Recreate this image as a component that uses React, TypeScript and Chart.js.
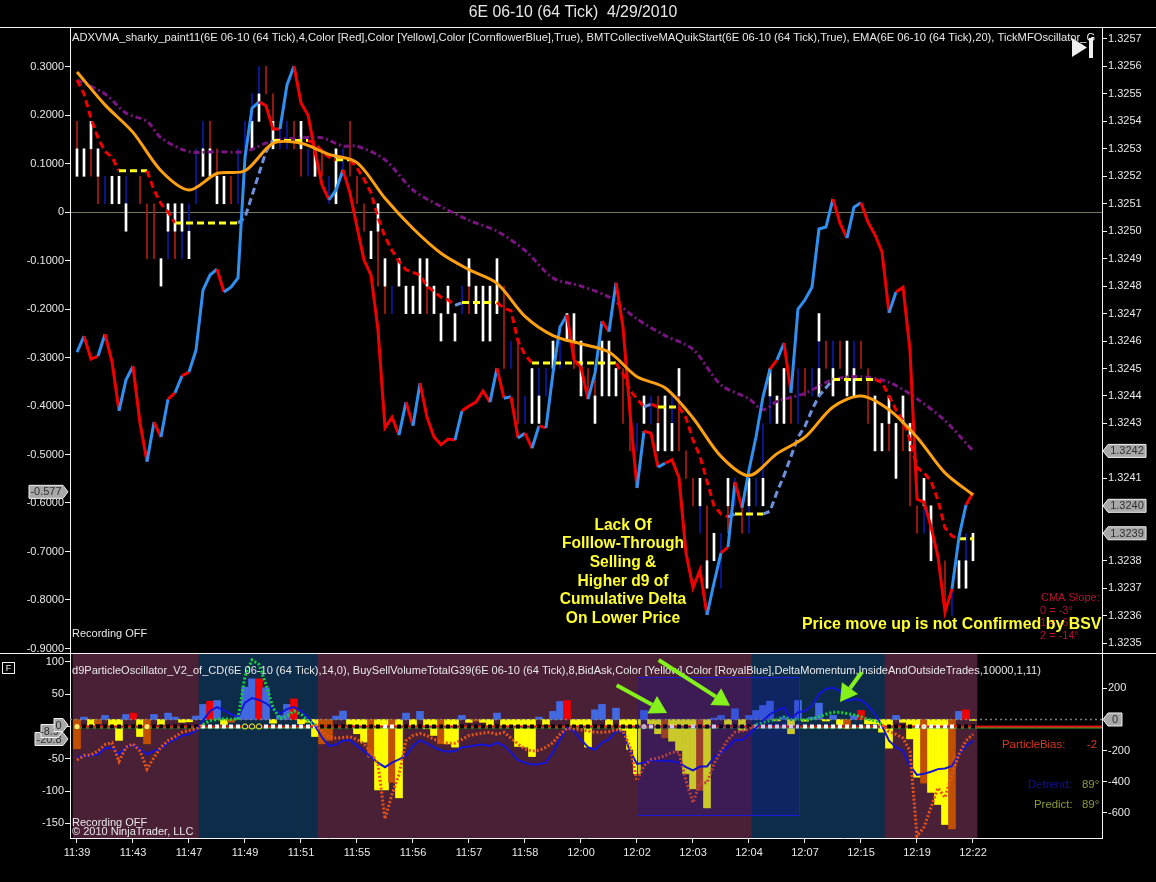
import React, { useEffect, useRef } from "react";
import { Chart, registerables } from "chart.js";

Chart.register(...registerables);

const FONT = "'Liberation Sans', Arial, sans-serif";

// ---------- categories / ticks ----------
const timeLabels = ["11:39","11:43","11:47","11:49","11:51","11:55","11:56","11:57","11:58","12:00","12:02","12:03","12:04","12:07","12:15","12:19","12:22"];
const timeTickEvery = 8;
const oscTicksTop = [0.3,0.2,0.1,0,-0.1,-0.2,-0.3,-0.4,-0.5,-0.6,-0.7,-0.8,-0.9];
const priceTicks = [1.3257,1.3256,1.3255,1.3254,1.3253,1.3252,1.3251,1.325,1.3249,1.3248,1.3247,1.3246,1.3245,1.3244,1.3243,1.3242,1.3241,1.324,1.3239,1.3238,1.3237,1.3236,1.3235];
const oscTicksBottom = [100,50,0,-50,-100,-150];
const volTicks = [200,-200,-400,-600];

// ---------- upper panel: thick oscillator line (left axis) ----------
const thickOsc = [-0.289,-0.256,-0.303,-0.297,-0.252,-0.309,-0.41,-0.346,-0.318,-0.435,-0.515,-0.433,-0.464,-0.386,-0.373,-0.338,-0.33,-0.285,-0.161,-0.13,-0.118,-0.165,-0.155,-0.136,0.113,0.214,0.227,0.219,0.171,0.171,0.262,0.301,0.225,0.2,0.124,0.056,0.025,0.045,0.087,0.039,-0.031,-0.099,-0.13,-0.243,-0.445,-0.423,-0.46,-0.392,-0.441,-0.353,-0.423,-0.464,-0.48,-0.468,-0.47,-0.41,-0.4,-0.392,-0.369,-0.392,-0.322,-0.384,-0.381,-0.466,-0.456,-0.487,-0.441,-0.445,-0.332,-0.237,-0.212,-0.305,-0.32,-0.386,-0.332,-0.225,-0.247,-0.146,-0.237,-0.414,-0.569,-0.452,-0.456,-0.526,-0.518,-0.511,-0.548,-0.703,-0.775,-0.738,-0.831,-0.765,-0.703,-0.691,-0.557,-0.61,-0.532,-0.464,-0.381,-0.324,-0.305,-0.27,-0.373,-0.2,-0.181,-0.155,-0.035,-0.031,0.027,-0.023,-0.054,0.01,0.019,-0.021,-0.047,-0.082,-0.208,-0.165,-0.155,-0.285,-0.592,-0.598,-0.649,-0.711,-0.825,-0.777,-0.67,-0.604,-0.579];
const thickRedRises = [2,13,15,44,52,53,55,56,57,84,88,92,99,117,120,124,127];

// ---------- upper panel: price-scale lines (right axis) ----------
const adxvma = [1.32555,1.3255,1.32541,1.32534,1.32529,1.32527,1.32522,1.32522,1.32522,1.32522,1.32522,1.32515,1.3251,1.32507,1.32503,1.32503,1.32503,1.32503,1.32503,1.32503,1.32503,1.32503,1.32503,1.32503,1.32505,1.32513,1.32521,1.32529,1.32533,1.32533,1.32533,1.32533,1.32533,1.32533,1.32532,1.32529,1.32527,1.32526,1.32526,1.32526,1.32523,1.32519,1.32514,1.32505,1.32498,1.32493,1.32489,1.32486,1.32485,1.32484,1.3248,1.32478,1.32476,1.32475,1.32473,1.32474,1.32474,1.32474,1.32474,1.32474,1.32474,1.32472,1.32471,1.3246,1.32455,1.32452,1.32452,1.32452,1.32452,1.32452,1.32452,1.32452,1.32452,1.32452,1.32452,1.32452,1.32452,1.32452,1.32448,1.32442,1.32439,1.32436,1.32437,1.32436,1.32436,1.32436,1.32436,1.32432,1.32424,1.32418,1.32409,1.324,1.32397,1.32396,1.32397,1.32397,1.32397,1.32397,1.32397,1.32398,1.32405,1.32411,1.32418,1.32425,1.32429,1.32435,1.3244,1.32443,1.32446,1.32446,1.32446,1.32446,1.32446,1.32446,1.32446,1.32445,1.3244,1.32435,1.32431,1.32424,1.32414,1.32412,1.32409,1.32402,1.32392,1.32389,1.32388,1.32388,1.32388];
const ema20: [number, number][] = [[0,1.32558],[4,1.32546],[8,1.32536],[12,1.32522],[16,1.32515],[20,1.32521],[24,1.32522],[28,1.32532],[32,1.32532],[36,1.32528],[40,1.32525],[44,1.32512],[48,1.32501],[52,1.32492],[56,1.32486],[60,1.32481],[64,1.32469],[68,1.32462],[72,1.32459],[76,1.32456],[80,1.32447],[84,1.32443],[88,1.32432],[92,1.32418],[96,1.32411],[100,1.32419],[104,1.32425],[108,1.32436],[112,1.3244],[116,1.32435],[120,1.32425],[124,1.32412],[128,1.32404]];
const collectiveMA: [number, number][] = [[0,1.32555],[4,1.3255],[7,1.32543],[10,1.3254],[12,1.32534],[16,1.32529],[20,1.32529],[24,1.32529],[28,1.32533],[32,1.32534],[35,1.32534],[38,1.32531],[40,1.32531],[44,1.32526],[48,1.32515],[52,1.32509],[56,1.32504],[60,1.325],[64,1.32493],[68,1.32483],[72,1.3248],[76,1.32476],[80,1.32468],[84,1.32462],[88,1.32457],[92,1.32444],[96,1.32439],[98,1.32435],[100,1.32438],[104,1.32441],[108,1.32446],[112,1.32447],[116,1.32445],[120,1.32439],[124,1.32431],[128,1.3242]];

// ---------- upper panel: price bars [bar index, low, high] ----------
const whiteBars: [number, number, number][] = [[0,1.3252,1.3253],[1,1.3252,1.3253],[2,1.3253,1.3254],[3,1.3252,1.3253],[5,1.3251,1.3252],[6,1.3251,1.3252],[7,1.325,1.3251],[12,1.3248,1.3249],[13,1.325,1.3251],[14,1.325,1.3251],[15,1.325,1.3251],[16,1.3249,1.325],[18,1.3252,1.3253],[19,1.3252,1.3253],[20,1.3251,1.3252],[21,1.3251,1.3252],[25,1.3253,1.3254],[26,1.3254,1.3255],[28,1.3253,1.3254],[32,1.3253,1.3254],[34,1.3252,1.3253],[37,1.3251,1.3253],[42,1.3249,1.325],[43,1.325,1.3251],[44,1.3248,1.3249],[46,1.3248,1.3249],[47,1.3247,1.3248],[48,1.3247,1.3248],[49,1.3247,1.3249],[50,1.3248,1.3249],[51,1.3247,1.3248],[52,1.3246,1.3247],[53,1.3247,1.3248],[54,1.3246,1.3247],[56,1.3248,1.3249],[57,1.3247,1.3248],[58,1.3246,1.3248],[59,1.3246,1.3248],[60,1.3247,1.3249],[65,1.3243,1.3245],[66,1.3243,1.3244],[68,1.3245,1.3246],[70,1.3246,1.3247],[71,1.3246,1.3247],[72,1.3244,1.3246],[74,1.3243,1.3244],[75,1.3244,1.3246],[76,1.3244,1.3246],[77,1.3244,1.3245],[81,1.3243,1.3244],[83,1.3242,1.3243],[84,1.3242,1.3244],[85,1.3242,1.3243],[86,1.3244,1.3245],[89,1.324,1.3241],[90,1.3237,1.3238],[91,1.3238,1.3239],[93,1.324,1.3241],[96,1.324,1.3241],[98,1.324,1.3241],[99,1.3244,1.3245],[100,1.3243,1.3244],[101,1.3243,1.3245],[106,1.3246,1.3247],[106,1.3244,1.3245],[108,1.3244,1.3245],[110,1.3244,1.3246],[111,1.3244,1.3245],[114,1.3242,1.3244],[115,1.3242,1.3243],[116,1.3243,1.3244],[117,1.3241,1.3243],[118,1.3243,1.3244],[119,1.3242,1.3243],[121,1.324,1.3241],[122,1.3238,1.324],[126,1.3237,1.3238],[127,1.3237,1.3238],[128,1.3238,1.3239]];
const redBars: [number, number, number][] = [[0,1.3253,1.3254],[2,1.3252,1.3253],[3,1.3251,1.3252],[9,1.3251,1.3252],[10,1.3249,1.3251],[11,1.3249,1.3251],[14,1.3249,1.325],[19,1.3253,1.3254],[20,1.3252,1.3253],[22,1.3251,1.3252],[27,1.3255,1.3256],[28,1.3254,1.3255],[31,1.3253,1.3254],[32,1.3252,1.3253],[35,1.3252,1.3253],[39,1.3252,1.3254],[40,1.3251,1.3252],[41,1.325,1.3251],[43,1.3248,1.325],[44,1.3247,1.3248],[50,1.3247,1.3248],[56,1.3247,1.3248],[61,1.3245,1.3248],[63,1.3243,1.3246],[71,1.3245,1.3246],[73,1.3244,1.3245],[74,1.3244,1.3245],[78,1.3243,1.3245],[79,1.3242,1.3244],[83,1.3243,1.3244],[86,1.3242,1.3244],[87,1.3241,1.3242],[88,1.324,1.3241],[90,1.3238,1.324],[93,1.3239,1.324],[95,1.3239,1.324],[102,1.3243,1.3244],[104,1.3244,1.3245],[107,1.3245,1.3246],[109,1.3245,1.3246],[112,1.3245,1.3246],[113,1.3243,1.3245],[116,1.3242,1.3243],[118,1.3242,1.3243],[119,1.324,1.3242],[120,1.3239,1.324],[124,1.3236,1.3238]];
const blueBars: [number, number, number][] = [[4,1.3251,1.3252],[7,1.3251,1.3252],[13,1.3249,1.325],[15,1.3249,1.325],[16,1.325,1.3251],[17,1.3251,1.3253],[18,1.3253,1.3254],[23,1.3251,1.3253],[24,1.3253,1.3254],[25,1.3254,1.3255],[26,1.3255,1.3256],[29,1.3253,1.3254],[30,1.3253,1.3254],[33,1.3252,1.3253],[36,1.3251,1.3252],[38,1.3252,1.3253],[45,1.3247,1.3248],[55,1.3247,1.3248],[62,1.3245,1.3246],[64,1.3243,1.3244],[66,1.3244,1.3245],[67,1.3244,1.3245],[69,1.3245,1.3246],[80,1.3242,1.3243],[82,1.3243,1.3244],[85,1.3243,1.3244],[89,1.3239,1.324],[92,1.3237,1.3239],[94,1.324,1.3241],[96,1.3239,1.324],[97,1.324,1.3241],[98,1.3241,1.3243],[99,1.3243,1.3244],[103,1.3243,1.3245],[105,1.3244,1.3245],[106,1.3245,1.3246],[108,1.3245,1.3246],[111,1.3245,1.3246],[121,1.3239,1.324],[125,1.3236,1.3237],[127,1.3238,1.3239]];

// ---------- lower panel ----------
const detrend = [-47,-46,-45,-43,-33.5,-32.5,-43,-32,-28,-35,-43,-38,-35,-25,-20,-14,-12,-7,9,24,30,25,19,14,37,44,41,36,27,20,27,30,24,14,1,-17,-30,-28,-22,-21,-30,-38,-47,-56,-63,-56,-51,-45,-30,-21,-26,-32,-37,-39,-38,-32,-31,-29,-28,-30,-25,-30,-40,-52,-56,-59,-58,-56,-40,-20,-2,-7,-20,-32,-36,-25,-20,-7,-9,-38,-58,-56,-52,-53,-53,-54,-56,-63,-68,-62,-62,-48,-40,-32,-21,-21,-12,-2,9,19,25,29,11,22,24,32,50,58,60,55,40,42,41,32,19,1,-22,-32,-38,-61,-75,-73,-70,-66,-65,-61,-43,-30,-22];
const particle = [-52,-45,-44,-38,-28,-25,-54,-32,-27,-38,-66,-48,-32,-22,-16,-9,-6,-4,3,9,11,12,11,12,78,103,96,65,29,12,16,24,19,9,3,-7,-16,-18,-17,-16,-20,-27,-40,-58,-143,-105,-74,-22,-14,-11,-14,-20,-23,-26,-26,-20,-14,-12,-10,-9,-12,-9,-18,-27,-35,-38,-37,-32,-25,-12,-3,-4,-5,-7,-9,-9,-8,-5,-7,-32,-84,-61,-51,-49,-45,-40,-40,-84,-118,-87,-87,-58,-38,-20,-9,-7,-4,3,6,9,11,15,11,11,10,12,15,19,22,22,20,18,15,11,9,3,-8,-12,-18,-38,-170,-156,-125,-95,-110,-74,-43,-22,-12];
const volumeDelta = [-189,15,-39,-28,26,-54,-135,32,41,-110,-157,32,-32,41,15,-18,-15,22,97,118,122,-32,-18,26,208,262,262,204,-24,26,97,133,-28,-18,-110,-157,-135,22,54,-32,-92,-146,-243,-454,-454,-405,-505,41,-39,52,-60,-103,-157,-157,-178,26,-18,-10,-18,-39,41,-39,-39,-174,-178,-239,15,-32,52,116,122,-39,-39,-178,62,97,-39,73,-70,-193,-350,58,-28,-92,-118,-140,-200,-350,-447,-458,-570,9,26,-32,69,-70,26,58,90,118,-9,15,-92,122,-11,15,105,-10,26,-32,-60,26,58,-28,-28,-82,-185,26,-18,-125,-372,-410,-470,-548,-677,-705,52,62,-6];
const deltaRedBars = [8,19,26,31,70,112,127];
const deltaBrownBars = [0,3,10,22,35,36,42,45,52,57,84,89,110,121,125];
const navyRegimes: [number, number][] = [[18,34],[97,115]];
const regimeLast = 128;
const whiteDots = [44,45,82,85,88,91,120,122,123,124,125];
const yellowDots = [0,10];
const hollowDots = [24,25,26];
const paleDots = [81,121];
const particleBias = -2;
const lastValues = { osc: -0.577, prices: [1.3242, 1.324, 1.3239], bottom: [-20.8, -8.9, 0], vol: 0 };
// selection box: first bar, last bar, left-axis top, left-axis bottom
const selectionBox = [80, 103.14, 76.6, -137];
// arrows: tail bar, tail value, tip bar, tip value (left axis)
const arrows = [[77.1,64,84.3,21],[83.1,103,93.3,32],[112.1,84,109,38]];

const chartTitle = "6E 06-10 (64 Tick)  4/29/2010";
const annotationLines = ["Lack Of","Folllow-Through","Selling &","Higher d9 of","Cumulative Delta","On Lower Price"];
const topLegend = "ADXVMA_sharky_paint11(6E 06-10 (64 Tick),4,Color [Red],Color [Yellow],Color [CornflowerBlue],True), BMTCollectiveMAQuikStart(6E 06-10 (64 Tick),True), EMA(6E 06-10 (64 Tick),20), TickMFOscillator_G";
const bottomLegend = "d9ParticleOscillator_V2_of_CD(6E 06-10 (64 Tick),14,0), BuySellVolumeTotalG39(6E 06-10 (64 Tick),8,BidAsk,Color [Yellow],Color [RoyalBlue],DeltaMomentum,InsideAndOutsideTrades,10000,1,11)";

const X_MIN = -1;
const X_MAX = 146.43;
const LOWER_TOP = 650;
const isNavy = (i: number) => navyRegimes.some(([a, b]) => i >= a && i <= b);
const pts = (rows: [number, number, number][]) => rows.map(([x, lo, hi]) => ({ x, y: [lo, hi] }));
const series = (vals: number[]) => vals.map((y, x) => ({ x, y }));
const pairs = (rows: [number, number][]) => rows.map(([x, y]) => ({ x, y }));
const timeTickValues = timeLabels.map((_, i) => i * timeTickEvery);

function fixedTicks(values: number[]) {
  return (scale: any) => {
    scale.ticks = values.map((value) => ({ value }));
  };
}

function text(ctx: CanvasRenderingContext2D, s: string, x: number, y: number, color: string, font: string, align: CanvasTextAlign = "left") {
  ctx.fillStyle = color;
  ctx.font = font;
  ctx.textAlign = align;
  ctx.textBaseline = "middle";
  ctx.fillText(s, x, y);
}

function flag(ctx: CanvasRenderingContext2D, s: string, tipX: number, y: number, width: number, dir: 1 | -1) {
  const h = 6.5;
  const bodyX = tipX - dir * 5;
  const farX = tipX - dir * width;
  ctx.beginPath();
  ctx.moveTo(tipX, y);
  ctx.lineTo(bodyX, y - h);
  ctx.lineTo(farX, y - h);
  ctx.lineTo(farX, y + h);
  ctx.lineTo(bodyX, y + h);
  ctx.closePath();
  ctx.fillStyle = "#a8a8a8";
  ctx.fill();
  ctx.strokeStyle = "#f0f0f0";
  ctx.lineWidth = 1;
  ctx.stroke();
  text(ctx, s, (bodyX + farX) / 2, y + 0.5, "#303030", `11px ${FONT}`, "center");
}

const upperOverlay = {
  id: "upperOverlay",
  afterDraw(chart: any) {
    const { ctx, scales } = chart;
    ctx.save();
    ctx.strokeStyle = "#f4f4f4";
    ctx.lineWidth = 1;
    ctx.beginPath();
    ctx.moveTo(0, 27.5);
    ctx.lineTo(1156, 27.5);
    ctx.moveTo(0, 653.5);
    ctx.lineTo(1156, 653.5);
    ctx.stroke();

    text(ctx, chartTitle, 573, 13, "#e8e8e8", `15.8px ${FONT}`, "center");

    ctx.save();
    ctx.beginPath();
    ctx.rect(70, 28, 1032, 30);
    ctx.clip();
    text(ctx, topLegend, 72, 38, "#e8e8e8", `11.18px ${FONT}`);
    ctx.restore();

    // play-to-end glyph
    ctx.fillStyle = "#f0f0f0";
    ctx.beginPath();
    ctx.moveTo(1072, 38);
    ctx.lineTo(1087, 47.5);
    ctx.lineTo(1072, 57);
    ctx.closePath();
    ctx.fill();
    ctx.fillRect(1089, 38, 4, 20);

    text(ctx, "Recording OFF", 72, 634, "#e8e8e8", `11px ${FONT}`);

    const crimson = "#b5142e";
    const cmaFont = `11px ${FONT}`;
    text(ctx, "CMA Slope:", 1041, 598, crimson, cmaFont);
    text(ctx, "0 = -3°", 1040, 611, crimson, cmaFont);
    text(ctx, "1 = -6°", 1040, 623, crimson, cmaFont);
    text(ctx, "2 = -14°", 1040, 636, crimson, cmaFont);

    const yel = "#ffff33";
    const bold = `bold 15.6px ${FONT}`;
    annotationLines.forEach((line, i) => text(ctx, line, 623, 525.5 + i * 18.6, yel, bold, "center"));
    text(ctx, "Price move up is not Confirmed by BSV", 802, 625, yel, `bold 15.9px ${FONT}`);

    flag(ctx, lastValues.osc.toFixed(3), 68, scales.yL.getPixelForValue(lastValues.osc), 39, 1);
    lastValues.prices.forEach((p) => flag(ctx, p.toFixed(4), 1103, scales.yR.getPixelForValue(p), 43, -1));
    ctx.restore();
  },
};

const lowerOverlay = {
  id: "lowerOverlay",
  afterDatasetsDraw(chart: any) {
    const { ctx, scales } = chart;
    const { x, yL } = scales;
    const [a, b, t, d] = selectionBox;
    const left = x.getPixelForValue(a);
    const right = x.getPixelForValue(b);
    const top = yL.getPixelForValue(t);
    const bottom = yL.getPixelForValue(d);
    ctx.save();
    ctx.fillStyle = "rgba(20,10,190,0.22)";
    ctx.fillRect(left, top, right - left, bottom - top);
    ctx.strokeStyle = "#1a1ad8";
    ctx.lineWidth = 1;
    ctx.strokeRect(left + 0.5, top + 0.5, right - left, bottom - top);
    ctx.restore();
  },
  afterDraw(chart: any) {
    const { ctx, scales } = chart;
    const { x, yL, yR } = scales;
    const Y = (v: number) => v - LOWER_TOP;
    ctx.save();
    text(ctx, bottomLegend, 72, Y(671), "#e8e8e8", `11.05px ${FONT}`);
    text(ctx, "Recording OFF", 72, Y(823), "#e8e8e8", `11px ${FONT}`);
    text(ctx, "© 2010 NinjaTrader, LLC", 72, Y(832), "#e8e8e8", `11px ${FONT}`);

    arrows.forEach(([tx, tv, hx, hv]) => {
      const x0 = x.getPixelForValue(tx);
      const y0 = yL.getPixelForValue(tv);
      const x1 = x.getPixelForValue(hx);
      const y1 = yL.getPixelForValue(hv);
      const ang = Math.atan2(y1 - y0, x1 - x0);
      const len = 17;
      const bx = x1 - Math.cos(ang) * len;
      const by = y1 - Math.sin(ang) * len;
      ctx.strokeStyle = "#84f01c";
      ctx.fillStyle = "#84f01c";
      ctx.lineWidth = 4;
      ctx.beginPath();
      ctx.moveTo(x0, y0);
      ctx.lineTo(bx, by);
      ctx.stroke();
      ctx.beginPath();
      ctx.moveTo(x1, y1);
      ctx.lineTo(bx + Math.sin(ang) * 10, by - Math.cos(ang) * 10);
      ctx.lineTo(bx - Math.sin(ang) * 10, by + Math.cos(ang) * 10);
      ctx.closePath();
      ctx.fill();
    });

    // F button
    ctx.strokeStyle = "#f0f0f0";
    ctx.lineWidth = 1;
    ctx.strokeRect(2.5, Y(662.5), 12, 11);
    text(ctx, "F", 8.5, Y(668.5), "#f0f0f0", `9px ${FONT}`, "center");

    const oscRed = "#d83a1c";
    const sideFont = `11.4px ${FONT}`;
    text(ctx, "ParticleBias:", 1002, Y(745), oscRed, sideFont);
    text(ctx, String(particleBias), 1097, Y(745), oscRed, sideFont, "right");
    text(ctx, "Detrend:", 1028, Y(785), "#10109a", sideFont);
    text(ctx, "89°", 1082, Y(785), "#8a9c3c", sideFont);
    text(ctx, "Predict:", 1034, Y(805), "#8a9c3c", sideFont);
    text(ctx, "89°", 1082, Y(805), "#8a9c3c", sideFont);

    const [v0, v1, v2] = lastValues.bottom;
    flag(ctx, v0.toFixed(1), 68, Y(739), 33, 1);
    flag(ctx, v1.toFixed(1), 63, Y(731), 22, 1);
    flag(ctx, String(v2), 68, Y(725), 14, 1);
    flag(ctx, String(lastValues.vol), 1103, yR.getPixelForValue(lastValues.vol), 19, -1);
    ctx.restore();
  },
};

const tickFont = { family: FONT, size: 11 };
const tickColor = "#e8e8e8";

function baseX(show: boolean) {
  return {
    type: "linear",
    display: show,
    min: X_MIN,
    max: X_MAX,
    offset: false,
    afterBuildTicks: fixedTicks(timeTickValues),
    afterFit: (s: any) => {
      s.height = show ? 44 : 0;
      s.paddingLeft = 0;
      s.paddingRight = 0;
    },
    border: { display: true, color: "#f4f4f4" },
    grid: { offset: false, drawOnChartArea: false, tickColor: "#f4f4f4", tickLength: 5 },
    ticks: {
      autoSkip: false,
      maxRotation: 0,
      color: tickColor,
      font: tickFont,
      padding: 3,
      callback: (v: number) => timeLabels[v / timeTickEvery] ?? "",
    },
  };
}

function yAxis(pos: string, width: number, min: number, max: number, values: number[], fmt: (v: number) => string, zeroLine: boolean) {
  return {
    type: "linear",
    position: pos,
    min,
    max,
    afterBuildTicks: fixedTicks(values),
    afterFit: (s: any) => {
      s.width = width;
      s.paddingTop = 0;
      s.paddingBottom = 0;
    },
    border: { display: true, color: "#f4f4f4" },
    grid: {
      drawOnChartArea: zeroLine,
      color: (c: any) => (c.tick && c.tick.value === 0 ? "#77775c" : "transparent"),
      tickColor: "#f4f4f4",
      tickLength: 5,
    },
    ticks: { autoSkip: false, color: tickColor, font: tickFont, padding: 1, callback: fmt },
  };
}

function App() {
  const upperRef = useRef<HTMLCanvasElement | null>(null);
  const lowerRef = useRef<HTMLCanvasElement | null>(null);

  useEffect(() => {
    const BLUE = "#2f90f0";
    const RED = "#f00000";
    const shared = {
      responsive: false,
      devicePixelRatio: 1,
      animation: false,
      events: [],
      plugins: { legend: { display: false }, tooltip: { enabled: false } },
    };

    const barSet = (rows: [number, number, number][], color: string, width: number, order: number) => ({
      type: "bar",
      data: pts(rows),
      backgroundColor: color,
      barThickness: width,
      grouped: false,
      yAxisID: "yR",
      order,
    });

    const upper = new Chart(upperRef.current as any, {
      type: "line",
      data: {
        datasets: [
          barSet(redBars, "#b01c10", 1, 12),
          barSet(blueBars, "#0a1aa8", 1, 11),
          barSet(whiteBars, "#ffffff", 2, 10),
          {
            label: "Collective MA",
            data: pairs(collectiveMA),
            yAxisID: "yR",
            borderColor: "#7a1480",
            borderWidth: 3,
            borderDash: [6, 3, 2, 3],
            pointRadius: 0,
            tension: 0.3,
            order: 6,
          },
          {
            label: "ADXVMA",
            data: series(adxvma),
            yAxisID: "yR",
            borderWidth: 3,
            borderColor: RED,
            borderDash: [7, 4],
            pointRadius: 0,
            order: 5,
            segment: {
              borderColor: (c: any) => {
                const d = c.p1.parsed.y - c.p0.parsed.y;
                if (d === 0) return "#ffff20";
                return d > 0 ? "#6c90dc" : "#f00000";
              },
            },
          },
          {
            label: "Oscillator",
            data: series(thickOsc),
            yAxisID: "yL",
            borderWidth: 3,
            borderColor: RED,
            pointRadius: 0,
            order: 4,
            segment: {
              borderColor: (c: any) =>
                c.p1.parsed.y > c.p0.parsed.y && !thickRedRises.includes(c.p0DataIndex) ? BLUE : RED,
            },
          },
          {
            label: "EMA",
            data: pairs(ema20),
            yAxisID: "yR",
            borderColor: "#ffa010",
            borderWidth: 3,
            pointRadius: 0,
            tension: 0.3,
            order: 3,
          },
        ],
      } as any,
      options: {
        ...shared,
        layout: { padding: { bottom: 1, top: 28 } },
        plugins: { ...shared.plugins },
        scales: {
          x: baseX(false),
          yL: yAxis("left", 70, -0.9093, 0.3794, oscTicksTop, (v: number) => (v === 0 ? "0" : v.toFixed(4)), true),
          yR: yAxis("right", 54, 1.323464, 1.32574, priceTicks, (v: number) => v.toFixed(4), false),
        },
      } as any,
      plugins: [upperOverlay],
    } as any);

    const bandMin = -172.6;
    const bandMax = 112.2;
    const bandRows = Array.from({ length: regimeLast + 1 }, (_, x) => ({ x, y: [bandMin, bandMax] }));
    const dotIdx = detrend.map((_, i) => i);
    const dotColor = (i: number) => {
      if (yellowDots.includes(i)) return "#ffe96a";
      if (hollowDots.includes(i)) return "#0d2c4a";
      if (paleDots.includes(i)) return "#e8e0d0";
      return isNavy(i) || whiteDots.includes(i) ? "#ffffff" : "#000000";
    };
    const special = (i: number) => yellowDots.includes(i) || hollowDots.includes(i) || paleDots.includes(i);

    const lower = new Chart(lowerRef.current as any, {
      type: "line",
      data: {
        datasets: [
          {
            type: "bar",
            label: "Regime",
            data: bandRows,
            yAxisID: "yL",
            barThickness: 8,
            grouped: false,
            backgroundColor: bandRows.map((r) => (isNavy(r.x) ? "#0d2c4a" : "#4a2036")),
            order: 20,
          },
          {
            type: "bar",
            label: "BuySellVolume",
            data: series(volumeDelta),
            yAxisID: "yR",
            barThickness: 7,
            grouped: false,
            backgroundColor: volumeDelta.map((v, i) => {
              if (deltaRedBars.includes(i)) return "#f00000";
              if (v > 0) return "#4169e1";
              return deltaBrownBars.includes(i) ? "#c05000" : "#ffff00";
            }),
            order: 19,
          },
          {
            label: "Volume zero",
            data: [{ x: X_MIN, y: 0 }, { x: X_MAX, y: 0 }],
            yAxisID: "yR",
            borderColor: "#808080",
            borderWidth: 1.5,
            borderDash: [2, 3],
            pointRadius: 0,
            order: 18,
          },
          {
            label: "Predict baseline",
            data: [{ x: -0.5, y: -2 }, { x: X_MAX, y: -2 }],
            yAxisID: "yL",
            borderColor: "#30b030",
            borderWidth: 1.5,
            pointRadius: 0,
            order: 17,
          },
          {
            label: "Zero",
            data: [{ x: -0.5, y: 0 }, { x: X_MAX, y: 0 }],
            yAxisID: "yL",
            borderColor: "#e01010",
            borderWidth: 2,
            pointRadius: 0,
            order: 16,
          },
          {
            label: "Dots",
            data: dotIdx.map((x) => ({ x, y: 0 })),
            yAxisID: "yL",
            showLine: false,
            pointStyle: dotIdx.map((i) => (special(i) ? "circle" : "rect")),
            pointRadius: dotIdx.map((i) => (special(i) ? 2.6 : 2.8)),
            pointBackgroundColor: dotIdx.map(dotColor),
            pointBorderColor: dotIdx.map((i) => (hollowDots.includes(i) ? "#ffff20" : dotColor(i))),
            pointBorderWidth: dotIdx.map((i) => (hollowDots.includes(i) ? 1 : 0)),
            order: 15,
          },
          {
            label: "Detrend",
            data: series(detrend),
            yAxisID: "yL",
            borderColor: "#1414d6",
            borderWidth: 2,
            pointRadius: 0,
            order: 3,
          },
          {
            label: "Particle",
            data: series(particle),
            yAxisID: "yL",
            borderColor: "#e6541a",
            borderWidth: 3,
            borderDash: [2, 2],
            pointRadius: 0,
            order: 2,
            segment: {
              borderColor: (c: any) => (c.p0.parsed.y >= 0 && c.p1.parsed.y >= 0 ? "#18d03c" : "#e6541a"),
            },
          },
        ],
      } as any,
      options: {
        ...shared,
        layout: { padding: 0 },
        scales: {
          x: baseX(true),
          yL: yAxis("left", 70, bandMin, bandMax, oscTicksBottom, (v: number) => String(v), false),
          yR: yAxis("right", 54, -764, 422, volTicks, (v: number) => String(v), false),
        },
      } as any,
      plugins: [lowerOverlay],
    } as any);

    return () => {
      upper.destroy();
      lower.destroy();
    };
  }, []);

  return (
    <div style={{ position: "absolute", left: 0, top: 0, width: 1156, height: 882, background: "#000", overflow: "hidden" }}>
      <canvas ref={upperRef} width={1156} height={654} style={{ position: "absolute", left: 0, top: 0, display: "block" }} />
      <canvas ref={lowerRef} width={1156} height={882 - LOWER_TOP} style={{ position: "absolute", left: 0, top: LOWER_TOP, display: "block" }} />
    </div>
  );
}

export default App;
